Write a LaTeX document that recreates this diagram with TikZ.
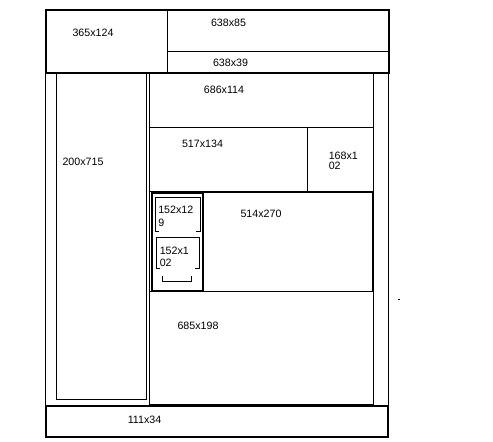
\documentclass[tikz,border=0pt]{standalone}
\usepackage{fontspec}
\setmainfont{Liberation Sans}
\begin{document}
\begin{tikzpicture}[x=0.75pt,y=-0.75pt,
  thinline/.style={draw=black,line width=0.75pt},
  heavyline/.style={draw=black,line width=1.5pt},
  lbl/.style={font=\fontsize{8}{9}\selectfont,inner sep=0pt,text=black},
  lbltwo/.style={lbl,align=left,anchor=base west}]
\useasboundingbox (0,0) rectangle (493,442);
\fill[white] (0,0) rectangle (493,442);

% header band
\draw[thinline] (167.5,10) -- (167.5,72);
\draw[thinline] (167,51.5) -- (388,51.5);
\draw[heavyline] (46,10) rectangle (388.5,73);

% outer frame sides
\draw[thinline] (45.5,73) -- (45.5,405);
\draw[thinline] (388.5,73) -- (388.5,405);

% left column
\draw[thinline] (56.5,73.5) rectangle (146.5,399.5);

% middle column
\draw[thinline] (149.5,73.5) rectangle (373.5,127.5);
\draw[thinline] (149.5,127.5) rectangle (307.5,191.5);
\draw[thinline] (307.5,127.5) rectangle (373.5,191.5);
\draw[thinline] (149.5,191.5) -- (149.5,291.5);
\draw[thinline] (149.5,291.5) rectangle (373.5,404.5);
\draw[heavyline] (151,192.5) -- (372.5,192.5) -- (372.5,291.5);
\draw[thinline] (203,291.5) -- (373,291.5);
\draw[heavyline] (152,193) rectangle (203,291.5);

% small bracketed boxes
\draw[thinline] (158.5,231.5) -- (155.5,231.5) -- (155.5,197.5) -- (200.5,197.5) -- (200.5,231.5) -- (195.5,231.5);
\draw[thinline] (159.5,268.5) -- (156.5,268.5) -- (156.5,237.5) -- (199.5,237.5) -- (199.5,268.5) -- (194.5,268.5);
\draw[thinline] (162.5,276) -- (162.5,281.5) -- (191.5,281.5) -- (191.5,276);

% footer band
\draw[heavyline] (46,406) rectangle (388,437);

% stray mark
\draw[thinline] (398,299.5) -- (400,299.5);

% labels (two-line labels are anchored on the baseline of their last line)
\node[lbl] (l365) at (93,32.5) {365x124};
\node[lbl] (l638a) at (228.5,23) {638x85};
\node[lbl] (l638b) at (230.5,62.5) {638x39};
\node[lbl] (l686) at (224,90) {686x114};
\node[lbl] (l517) at (202.5,144) {517x134};
\node[lbltwo,font=\fontsize{8}{7.5}\selectfont] (l168) at (328.5,170) {168x1\\02};
\node[lbl] (l200) at (83,162) {200x715};
\node[lbl] (l514) at (261,213.5) {514x270};
\node[lbltwo,font=\fontsize{8}{9.75}\selectfont] (l152a) at (158,226.5) {152x12\\9};
\node[lbltwo,font=\fontsize{8}{9}\selectfont] (l152b) at (159.5,266.5) {152x1\\02};
\node[lbl] (l685) at (198,326) {685x198};
\node[lbl] (l111) at (144.5,419.5) {111x34};
\end{tikzpicture}
\end{document}
